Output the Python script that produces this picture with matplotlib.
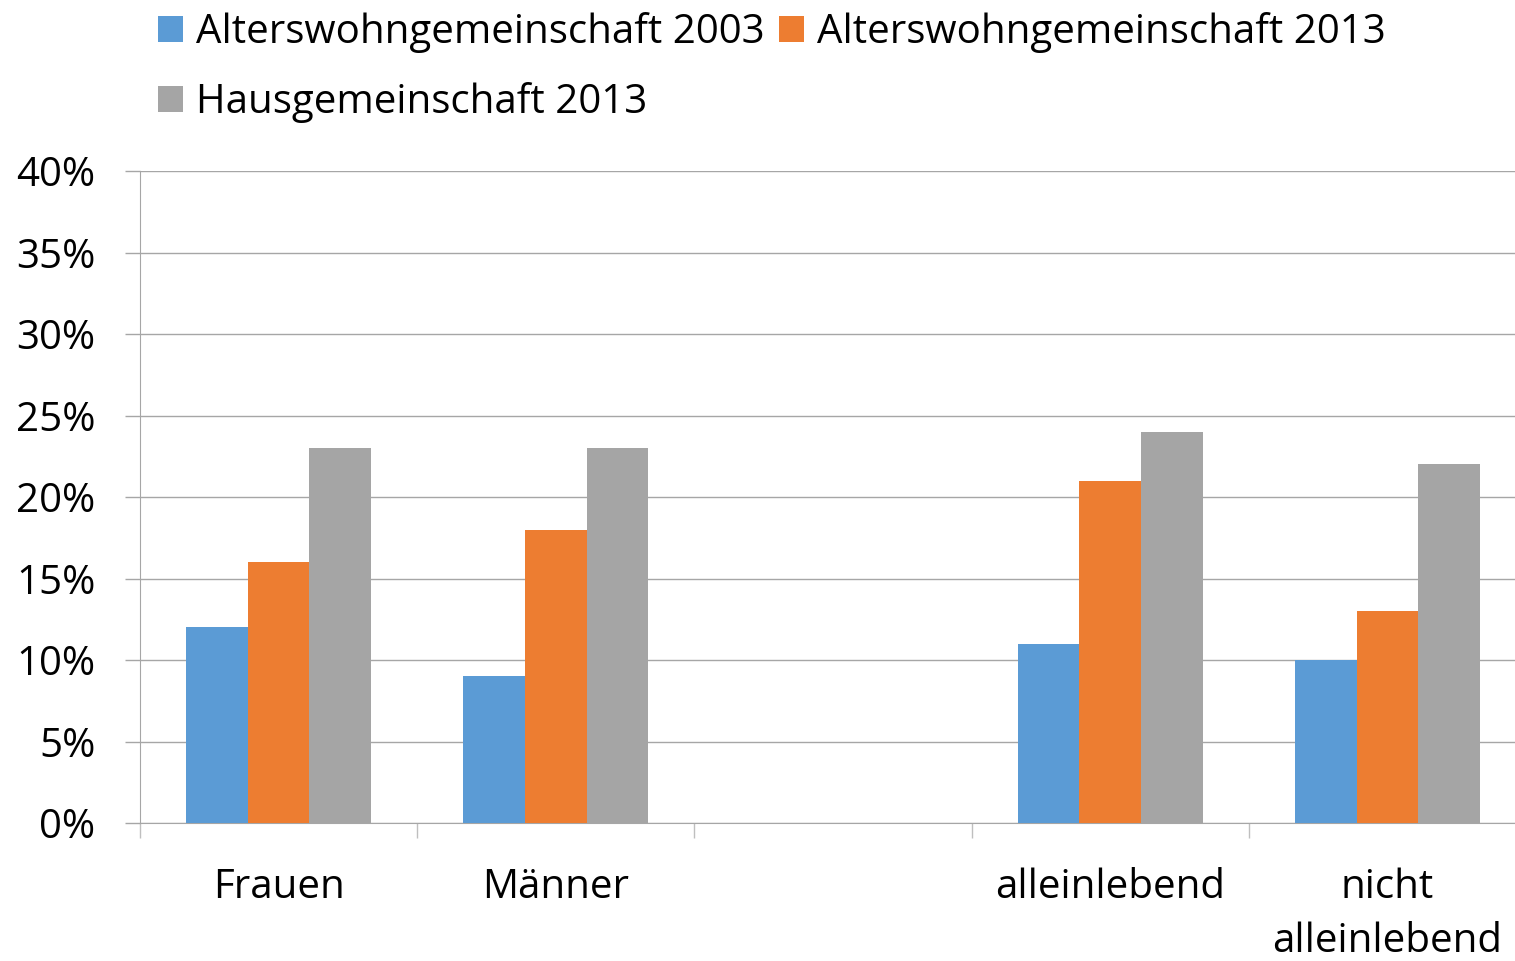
import matplotlib.pyplot as plt
import numpy as np
from matplotlib.ticker import FixedLocator, PercentFormatter, NullFormatter

plt.rcParams['font.family'] = ['Open Sans', 'DejaVu Sans']

categories = ['Frauen', 'Männer', '', 'alleinlebend', 'nicht\nalleinlebend']
series_names = ['Alterswohngemeinschaft 2003', 'Alterswohngemeinschaft 2013', 'Hausgemeinschaft 2013']
awg_2003 = [12, 9, np.nan, 11, 10]
awg_2013 = [16, 18, np.nan, 21, 13]
hg_2013 = [23, 23, np.nan, 24, 22]
colors = ['#5B9BD5', '#ED7D31', '#A5A5A5']

fig = plt.figure(figsize=(15.15, 9.61), dpi=100)
# plot area runs a little past the right edge of the figure, like the original
ax = fig.add_axes([140 / 1515, 1 - 823 / 961, 1386 / 1515, 652 / 961])

x = np.arange(len(categories))
w = 0.222
bars = []
for i, (vals, c) in enumerate(zip([awg_2003, awg_2013, hg_2013], colors)):
    b = ax.bar(x + (i - 1) * w, vals, width=w, color=c, label=series_names[i], zorder=3)
    bars.append(b)

ax.set_xlim(-0.5, len(categories) - 0.5)
ax.set_ylim(0, 40)
ax.yaxis.set_major_locator(FixedLocator(range(0, 41, 5)))
ax.yaxis.set_major_formatter(PercentFormatter(decimals=0))
ax.grid(axis='y', color='#A6A6A6', linewidth=1, zorder=0)

# boundary ticks on x, labels in the middle
ax.xaxis.set_major_locator(FixedLocator(np.arange(-0.5, len(categories), 1)))
ax.xaxis.set_major_formatter(NullFormatter())
ax.set_xticks(x, categories, minor=True)
ax.tick_params(axis='x', which='major', length=11, color='#BFBFBF', width=1)
ax.tick_params(axis='x', which='minor', length=0, labelsize=29, pad=32)
ax.tick_params(axis='y', length=11, color='#A6A6A6', width=1, labelsize=29, pad=21)
for lab in ax.get_xticklabels(minor=True):
    lab.set_linespacing(1.45)

for s in ['top', 'right']:
    ax.spines[s].set_visible(False)
ax.spines['left'].set_color('#A6A6A6')
ax.spines['bottom'].set_color('#A6A6A6')

handles = [bars[0], bars[2], bars[1]]
labels = [series_names[0], series_names[2], series_names[1]]
fig.legend(handles, labels, ncol=2, loc='upper left', bbox_to_anchor=(158 / 1515, 1 - 12 / 961),
           frameon=False, fontsize=29, handlelength=0.62, handleheight=0.62,
           handletextpad=0.32, columnspacing=0.37, labelspacing=0.72, borderpad=0,
           borderaxespad=0)

fig.savefig('out.png', dpi=100)
